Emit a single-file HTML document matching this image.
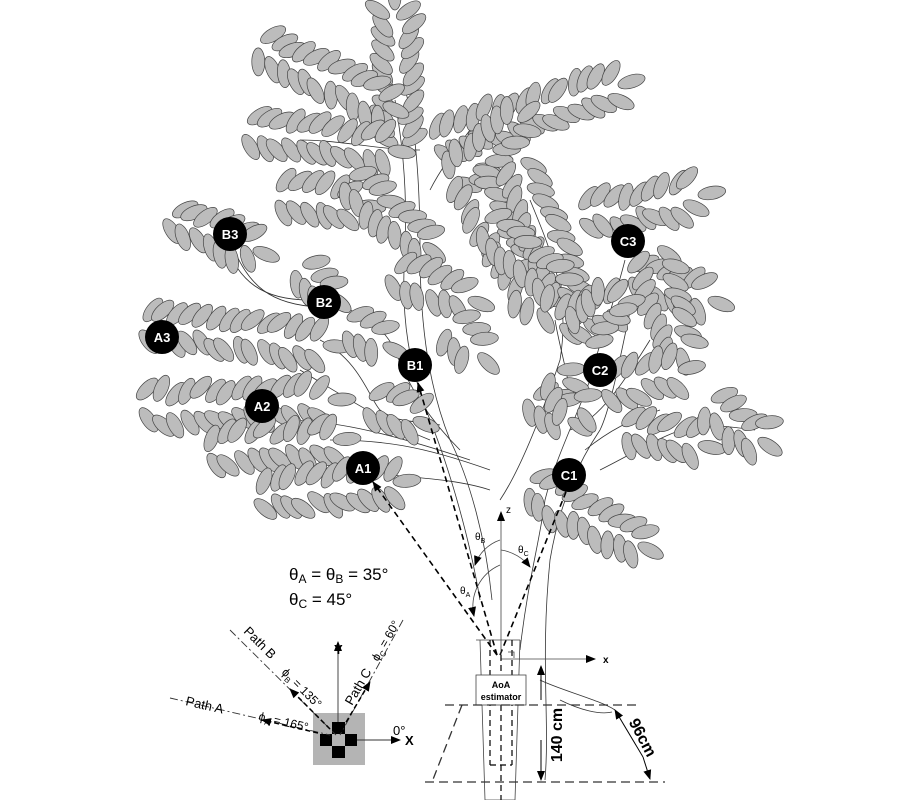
<!DOCTYPE html>
<html><head><meta charset="utf-8"><style>
html,body{margin:0;padding:0;background:#fff;}
svg{display:block;font-family:"Liberation Sans",sans-serif;}
</style></head><body>
<svg id="s" width="901" height="800" viewBox="0 0 901 800" xmlns="http://www.w3.org/2000/svg">
<defs>
<marker id="ah" markerWidth="10" markerHeight="10" refX="9" refY="5" orient="auto" markerUnits="userSpaceOnUse"><path d="M0,1 L10,5 L0,9 z" fill="#000"/></marker>
</defs>
<g id="branches" fill="none" stroke="#333" stroke-width="0.8">
<path d="M480,600 C470,540 450,470 430,420 C410,370 400,320 405,250 C408,180 400,130 395,100"/>
<path d="M492,600 C486,540 470,480 450,440 C430,390 420,330 420,250 C420,180 415,120 405,90"/>
<path d="M520,650 C528,580 540,540 545,500 C555,460 575,420 590,380 C600,340 615,300 625,260"/>
<path d="M545,780 C550,720 540,660 550,560 C560,500 580,460 600,430 C615,400 630,300 640,270"/>
<path d="M500,500 C520,470 540,420 560,360 C570,300 555,260 530,200"/>
<path d="M420,150 C380,150 340,140 300,140"/>
<path d="M430,190 C440,170 455,150 470,130"/>
<path d="M225,245 C240,280 260,300 310,300 C350,305 380,320 395,350 C410,390 430,420 460,450"/>
<path d="M232,245 C248,285 270,305 320,307"/>
<path d="M320,340 C360,360 370,400 380,410 C400,425 420,420 440,425"/>
<path d="M300,370 C350,400 380,420 430,440"/>
<path d="M280,420 C330,420 380,430 470,460"/>
<path d="M330,440 C380,440 420,445 490,470"/>
<path d="M390,475 C420,478 460,480 490,490"/>
<path d="M570,430 C600,420 625,380 650,340"/>
<path d="M585,450 C610,430 630,420 660,410"/>
<path d="M600,470 C640,450 670,430 700,425 C720,425 740,428 755,430"/>
<path d="M570,400 C570,380 560,350 555,320"/>
<path d="M540,680 C560,690 600,700 615,710"/>
<path d="M560,700 C580,710 600,715 612,712"/>
</g>
<g id="leaves"></g>
<g id="dash" fill="none" stroke="#000" stroke-width="1.6" stroke-dasharray="6,4">
<line x1="497" y1="655" x2="373" y2="482" marker-end="url(#ah)"/>
<line x1="497" y1="655" x2="418" y2="383" marker-end="url(#ah)"/>
<line x1="500" y1="655" x2="566" y2="492"/>
</g>
<g fill="#000" stroke="none">
<circle cx="230" cy="234" r="17"/><circle cx="324" cy="302" r="17"/><circle cx="162" cy="337" r="17"/>
<circle cx="415" cy="365" r="17"/><circle cx="262" cy="406" r="17"/><circle cx="363" cy="468" r="17"/>
<circle cx="628" cy="241" r="17"/><circle cx="600" cy="370" r="17"/><circle cx="569" cy="475" r="17"/>
</g>
<g fill="#fff" font-weight="bold" font-size="13" text-anchor="middle">
<text x="230" y="239">B3</text><text x="324" y="307">B2</text><text x="162" y="342">A3</text>
<text x="415" y="370">B1</text><text x="262" y="411">A2</text><text x="363" y="473">A1</text>
<text x="628" y="246">C3</text><text x="600" y="375">C2</text><text x="569" y="480">C1</text>
</g>
<g stroke="#444" stroke-width="0.8" fill="none">
<line x1="501" y1="657" x2="501" y2="512" marker-end="url(#ah)"/>
<line x1="501" y1="659" x2="595" y2="659" marker-end="url(#ah)"/>
<path d="M500,540 A40,40 0 0 0 475,565" marker-end="url(#ah)"/>
<path d="M501,550 A45,45 0 0 1 530,567" marker-end="url(#ah)"/>
<path d="M500,565 A45,45 0 0 0 474,616" marker-end="url(#ah)"/>
<path d="M480,640 L485,800 M520,640 L515,800 M476,640 H520 M485,800 H515"/>
<path d="M490,640 V765 M512,640 V765 M490,765 H512" stroke-dasharray="6,4" stroke="#000" stroke-width="1.2"/>
<path d="M501,655 V800" stroke-dasharray="6,4" stroke="#000" stroke-width="1.2"/>
<rect x="476" y="675" width="50" height="30" fill="#fff"/>
<path d="M508,652 h6 v6" />
</g>
<text x="501" y="688" font-size="9" font-weight="bold" text-anchor="middle">AoA</text>
<text x="501" y="700" font-size="9" font-weight="bold" text-anchor="middle">estimator</text>
<text x="506" y="513" font-size="10">z</text>
<text x="603" y="663" font-size="10" font-weight="bold">x</text>
<text x="475" y="540" font-size="10">θ<tspan font-size="7" dy="3">B</tspan></text>
<text x="518" y="553" font-size="10">θ<tspan font-size="7" dy="3">C</tspan></text>
<text x="460" y="594" font-size="10">θ<tspan font-size="7" dy="3">A</tspan></text>
<g stroke="#333" stroke-width="1.3" stroke-dasharray="9,5" fill="none">
<line x1="445" y1="705" x2="640" y2="705"/>
<line x1="425" y1="782" x2="665" y2="782"/>
<line x1="462" y1="705" x2="432" y2="782"/>
</g>
<g stroke="#000" stroke-width="1" fill="none">
<line x1="541" y1="700" x2="541" y2="666" marker-end="url(#ah)"/>
<line x1="541" y1="740" x2="541" y2="780" marker-end="url(#ah)"/>
<line x1="643" y1="757" x2="615" y2="710" marker-end="url(#ah)"/>
<line x1="643" y1="757" x2="650" y2="779" marker-end="url(#ah)"/>
</g>
<text transform="translate(562,735) rotate(-90)" font-size="16" font-weight="bold" text-anchor="middle">140 cm</text>
<text transform="translate(638,740) rotate(62)" font-size="16" font-weight="bold" text-anchor="middle">96cm</text>
<text x="289" y="580" font-size="17">θ<tspan font-size="12" dy="3">A</tspan><tspan dy="-3"> = θ</tspan><tspan font-size="12" dy="3">B</tspan><tspan dy="-3"> = 35°</tspan></text>
<text x="289" y="605" font-size="17">θ<tspan font-size="12" dy="3">C</tspan><tspan dy="-3"> = 45°</tspan></text>
<rect x="313" y="713" width="52" height="52" fill="#b4b4b4"/>
<g fill="#000"><rect x="332" y="722" width="13" height="12"/><rect x="320" y="734" width="12" height="12"/><rect x="345" y="734" width="12" height="12"/><rect x="332" y="746" width="13" height="12"/></g>
<g stroke="#333" stroke-width="0.9" fill="none">
<line x1="338" y1="722" x2="338" y2="642" marker-end="url(#ah)"/>
<line x1="357" y1="740" x2="400" y2="740" marker-end="url(#ah)"/>
<line x1="170" y1="698" x2="330" y2="735" stroke-dasharray="8,3,2,3"/>
<line x1="230" y1="630" x2="336" y2="735" stroke-dasharray="8,3,2,3"/>
<line x1="403" y1="620" x2="340" y2="735" stroke-dasharray="8,3,2,3"/>
</g>
<g stroke="#000" stroke-width="1.5" stroke-dasharray="5,3" fill="none">
<line x1="318" y1="733" x2="262" y2="720" marker-end="url(#ah)"/>
<line x1="330" y1="729" x2="290" y2="689" marker-end="url(#ah)"/>
<line x1="342" y1="729" x2="370" y2="682" marker-end="url(#ah)"/>
</g>
<text x="334" y="654" font-size="13" font-weight="bold">Y</text>
<text x="405" y="745" font-size="13" font-weight="bold">X</text>
<text x="393" y="735" font-size="13">0°</text>
<text transform="translate(185,705) rotate(13)" font-size="13">Path A</text>
<text transform="translate(258,720) rotate(13)" font-size="12">ϕ<tspan font-size="8" dy="3">A</tspan><tspan dy="-3"> = 165°</tspan></text>
<text transform="translate(243,632) rotate(45)" font-size="13">Path B</text>
<text transform="translate(281,673) rotate(45)" font-size="12">ϕ<tspan font-size="8" dy="3">B</tspan><tspan dy="-3"> = 135°</tspan></text>
<text transform="translate(352,706) rotate(-60)" font-size="13">Path C</text>
<text transform="translate(378,662) rotate(-60)" font-size="12">ϕ<tspan font-size="8" dy="3">C</tspan><tspan dy="-3"> = 60°</tspan></text>
</svg>
<script>
var fr=[[400,140,395,8],[265,50,385,105],[255,130,390,150],[285,195,360,205],[355,185,425,245],
[440,140,620,85],[460,175,520,120],[470,180,540,310],[520,170,570,300],[490,230,560,290],
[590,215,700,195],[640,275,710,300],[655,260,680,350],[565,320,620,305],[610,385,680,370],
[630,430,700,445],[715,410,760,440],[540,400,570,420],[535,490,640,545],[150,325,325,345],
[150,408,330,400],[215,450,335,440],[265,495,395,482],[178,220,255,250],[305,275,330,295],
[355,330,385,345],[378,405,415,420],[400,275,470,300],[455,330,480,355],[585,330,610,300],[560,380,580,410]];
var g=document.getElementById('leaves'),h='';
var seed=7;function r(){seed=(seed*9301+49297)%233280;return seed/233280;}
fr.forEach(function(f){var dx=f[2]-f[0],dy=f[3]-f[1],L=Math.hypot(dx,dy),ux=dx/L,uy=dy/L,nx=-uy,ny=ux;
var a=Math.atan2(dy,dx)*180/Math.PI;
for(var t=0;t<=L;t+=13){for(var s=-1;s<=1;s+=2){var off=13+r()*4;var cx=f[0]+ux*t+nx*off*s+(r()-0.5)*5,cy=f[1]+uy*t+ny*off*s+(r()-0.5)*5;
var ang=a+90*s+(s>0?-40:40)+(r()-0.5)*30;
h+='<ellipse cx="'+cx.toFixed(1)+'" cy="'+cy.toFixed(1)+'" rx="6.5" ry="14" transform="rotate('+(ang+90).toFixed(1)+' '+cx.toFixed(1)+' '+cy.toFixed(1)+')"/>';}}
var ex=f[2]+ux*12,ey=f[3]+uy*12;h+='<ellipse cx="'+ex.toFixed(1)+'" cy="'+ey.toFixed(1)+'" rx="6.5" ry="14" transform="rotate('+(a+90).toFixed(1)+' '+ex.toFixed(1)+' '+ey.toFixed(1)+')"/>';});
g.setAttribute('fill','#bcbcbc');g.setAttribute('stroke','#444');g.setAttribute('stroke-width','0.7');g.innerHTML=h;
</script>
</body></html>
